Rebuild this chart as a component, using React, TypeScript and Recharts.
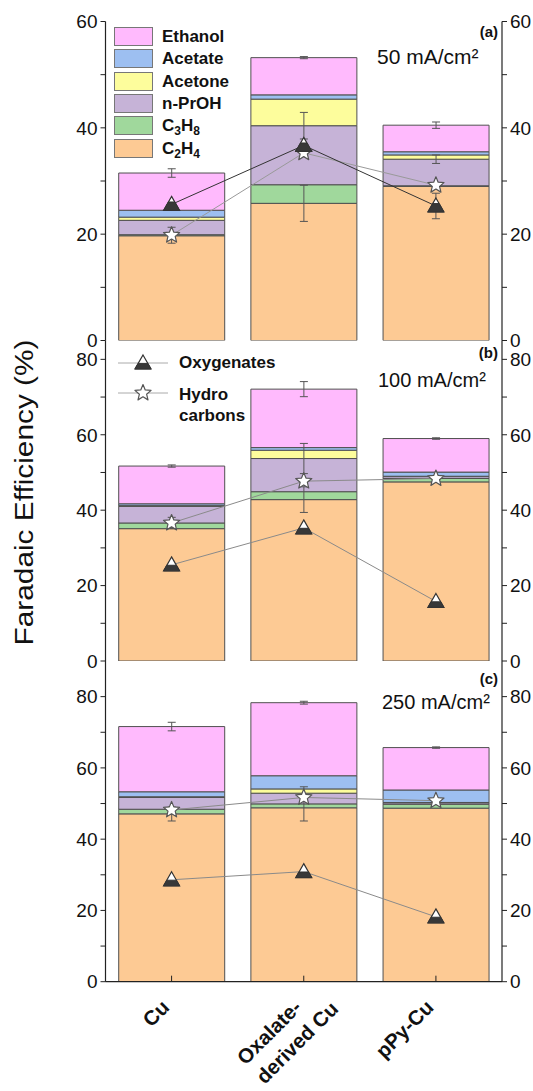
import React from "react";
import { Bar, ComposedChart, ErrorBar, Line, XAxis, YAxis } from "recharts";

const W = 533;
const FONT = "'Liberation Sans', Arial, sans-serif";

const CATEGORIES = ["Cu", "Oxalate-\nderived Cu", "pPy-Cu"];

// (a) 50 mA/cm2 — stacked from the bottom up
const C2H4_50 = [19.7, 25.8, 29.0];
const C3H8_50 = [0.2, 3.5, 0.1];
const NPROH_50 = [2.7, 11.1, 5.0];
const ACETONE_50 = [0.6, 5.0, 0.8];
const ACETATE_50 = [1.3, 0.8, 0.6];
const ETHANOL_50 = [7.0, 7.0, 5.0];
const OXY_50 = [25.6, 36.7, 25.3];
const HYDRO_50 = [19.8, 35.3, 29.2];
const ETHANOL_ERR_50 = [0.8, 0.2, 0.6];
const NPROH_ERR_50 = [0, 2.5, 0.8];
const C2H4_ERR_50 = [0, 3.4, 0];
const C3H8_ERR_50 = [0, 0, 0];
const OXY_ERR_50 = [0, 0, 2.4];
const HYDRO_ERR_50 = [1.5, 0, 0];

// (b) 100 mA/cm2
const C2H4_100 = [35.1, 42.8, 47.5];
const C3H8_100 = [1.5, 2.1, 0.9];
const NPROH_100 = [4.4, 8.8, 0.5];
const ACETONE_100 = [0.2, 2.2, 0.1];
const ACETATE_100 = [0.5, 0.7, 1.1];
const ETHANOL_100 = [10.0, 15.5, 8.9];
const OXY_100 = [25.5, 35.3, 15.8];
const HYDRO_100 = [36.6, 47.7, 48.4];
const ETHANOL_ERR_100 = [0.3, 2.0, 0.2];
const NPROH_ERR_100 = [0, 4.0, 0];
const C2H4_ERR_100 = [0, 3.4, 0];
const C3H8_ERR_100 = [1.5, 0, 0];
const OXY_ERR_100 = [0, 0, 0];
const HYDRO_ERR_100 = [0, 0, 0];

// (c) 250 mA/cm2
const C2H4_250 = [47.1, 48.8, 48.7];
const C3H8_250 = [1.3, 1.1, 1.1];
const NPROH_250 = [3.3, 3.0, 0.4];
const ACETONE_250 = [0.2, 1.2, 0.1];
const ACETATE_250 = [1.4, 3.7, 3.5];
const ETHANOL_250 = [18.3, 20.5, 11.9];
const OXY_250 = [28.6, 30.9, 18.2];
const HYDRO_250 = [48.2, 51.7, 50.8];
const ETHANOL_ERR_250 = [1.2, 0.4, 0.2];
const NPROH_ERR_250 = [0, 0, 0];
const C2H4_ERR_250 = [2.0, 0, 0];
const C3H8_ERR_250 = [0, 4.8, 0];
const OXY_ERR_250 = [0, 0, 0];
const HYDRO_ERR_250 = [0, 0, 0];

const COLORS = {
  ethanol: "#ffbafd",
  acetate: "#9dbff1",
  acetone: "#fdfd9c",
  nproh: "#c6b3d7",
  c3h8: "#a0d89c",
  c2h4: "#fdca94",
};

function rows(
  c2h4: number[], c3h8: number[], nproh: number[], acetone: number[], acetate: number[], ethanol: number[],
  oxy: number[], hydro: number[],
  eEth: number[], eNp: number[], eC2: number[], eC3: number[], eOxy: number[], eHyd: number[],
) {
  return CATEGORIES.map((cat, i) => ({
    cat,
    c2h4: c2h4[i], c3h8: c3h8[i], nproh: nproh[i], acetone: acetone[i], acetate: acetate[i], ethanol: ethanol[i],
    oxy: oxy[i], hydro: hydro[i],
    eEth: eEth[i], eNp: eNp[i], eC2: eC2[i], eC3: eC3[i], eOxy: eOxy[i], eHyd: eHyd[i],
  }));
}

const DATA_50 = rows(C2H4_50, C3H8_50, NPROH_50, ACETONE_50, ACETATE_50, ETHANOL_50, OXY_50, HYDRO_50,
  ETHANOL_ERR_50, NPROH_ERR_50, C2H4_ERR_50, C3H8_ERR_50, OXY_ERR_50, HYDRO_ERR_50);
const DATA_100 = rows(C2H4_100, C3H8_100, NPROH_100, ACETONE_100, ACETATE_100, ETHANOL_100, OXY_100, HYDRO_100,
  ETHANOL_ERR_100, NPROH_ERR_100, C2H4_ERR_100, C3H8_ERR_100, OXY_ERR_100, HYDRO_ERR_100);
const DATA_250 = rows(C2H4_250, C3H8_250, NPROH_250, ACETONE_250, ACETATE_250, ETHANOL_250, OXY_250, HYDRO_250,
  ETHANOL_ERR_250, NPROH_ERR_250, C2H4_ERR_250, C3H8_ERR_250, OXY_ERR_250, HYDRO_ERR_250);

const measureCtx = typeof document !== "undefined" ? document.createElement("canvas").getContext("2d") : null;
function textWidth(s: string, font: string) {
  if (!measureCtx) return s.length * 11;
  measureCtx.font = font;
  return measureCtx.measureText(s).width;
}

function Tri({ cx, cy, dark, size = 1 }: { cx: number; cy: number; dark: number; size?: number }) {
  const hw = 8 * size, apexY = cy - 8 * size, baseY = cy + 6 * size;
  const h = baseY - apexY;
  const splitY = apexY + h * (1 - dark);
  const sw = (hw * (splitY - apexY)) / h;
  return (
    <g>
      <polygon points={`${cx},${apexY} ${cx + hw},${baseY} ${cx - hw},${baseY}`} fill="#fff" stroke="#333" strokeWidth={1.2} />
      <polygon points={`${cx - sw},${splitY} ${cx + sw},${splitY} ${cx + hw},${baseY} ${cx - hw},${baseY}`} fill="#383838" stroke="#333" strokeWidth={1} />
    </g>
  );
}

function Star({ cx, cy }: { cx: number; cy: number }) {
  const pts = Array.from({ length: 10 }, (_, i) => {
    const r = i % 2 ? 3.8 : 8.5;
    const a = -Math.PI / 2 + (i * Math.PI) / 5;
    return `${cx + r * Math.cos(a)},${cy + r * Math.sin(a)}`;
  }).join(" ");
  return <polygon points={pts} fill="#fff" stroke="#555" strokeWidth={1.2} strokeLinejoin="round" />;
}

// rotated category label: first line ends near the tick, following lines share its left edge
function CatTick(props: any) {
  const { x, y, payload } = props;
  const lines = String(payload?.value ?? "").split("\n");
  const font = `bold 20.5px ${FONT}`;
  const w1 = textWidth(lines[0], font);
  return (
    <g transform={`translate(${x - 1},${y + 27}) rotate(-45)`}>
      {lines.map((ln, i) => (
        <text key={i} x={-w1} y={i * 27} textAnchor="start" fontSize={20.5} fontWeight="bold" fontFamily={FONT} fill="#111">
          {ln}
        </text>
      ))}
    </g>
  );
}

const AXIS = "#222";
const yTickFmt = (v: number) => (v % 20 === 0 ? String(v) : "");
const Y_TICK_STYLE = { fontSize: 19, fill: "#111", fontFamily: FONT };

type PanelProps = {
  data: any[];
  top: number;
  height: number;
  mt: number;
  mb: number;
  yMax: number;
  yTicks: number[];
  dark: number;
  oxyStroke: string;
  hydroStroke: string;
  showCats?: boolean;
};

function Panel({ data, top, height, mt, mb, yMax, yTicks, dark, oxyStroke, hydroStroke, showCats }: PanelProps) {
  const err = (key: string) => <ErrorBar dataKey={key} width={4} strokeWidth={1} stroke="#555" direction="y" />;
  return (
    <div style={{ position: "absolute", left: 0, top, width: W, height }}>
      <ComposedChart width={W} height={height} data={data} margin={{ top: mt, right: 0, bottom: mb, left: 0 }} barCategoryGap="10%">
        <XAxis
          xAxisId="cat" dataKey="cat" orientation="bottom" height={showCats ? 100 : 0} tickSize={-6} tickMargin={6}
          axisLine={{ stroke: AXIS, strokeWidth: 1.2 }} tickLine={{ stroke: AXIS }}
          tick={showCats ? <CatTick /> : false} interval={0}
        />
        <XAxis
          xAxisId="top" dataKey="cat" orientation="top" height={0} tickSize={-6}
          axisLine={{ stroke: AXIS, strokeWidth: 1.2 }} tickLine={{ stroke: AXIS }} tick={false} interval={0}
        />
        <YAxis
          yAxisId="l" domain={[0, yMax]} ticks={yTicks} allowDataOverflow width={105.5} tickSize={5} tickMargin={3}
          interval={0} tickFormatter={yTickFmt} axisLine={{ stroke: AXIS, strokeWidth: 1.2 }} tickLine={{ stroke: AXIS }}
          tick={Y_TICK_STYLE}
        />
        <YAxis
          yAxisId="r" orientation="right" domain={[0, yMax]} ticks={yTicks} allowDataOverflow width={31} tickSize={5} tickMargin={3}
          interval={0} tickFormatter={yTickFmt} axisLine={{ stroke: AXIS, strokeWidth: 1.2 }} tickLine={{ stroke: AXIS }}
          tick={Y_TICK_STYLE}
        />
        <Bar xAxisId="cat" yAxisId="l" dataKey="c2h4" stackId="s" fill={COLORS.c2h4} stroke="#505050" strokeWidth={1} isAnimationActive={false}>
          {err("eC2")}
        </Bar>
        <Bar xAxisId="cat" yAxisId="l" dataKey="c3h8" stackId="s" fill={COLORS.c3h8} stroke="#505050" strokeWidth={1} isAnimationActive={false}>
          {err("eC3")}
        </Bar>
        <Bar xAxisId="cat" yAxisId="l" dataKey="nproh" stackId="s" fill={COLORS.nproh} stroke="#505050" strokeWidth={1} isAnimationActive={false}>
          {err("eNp")}
        </Bar>
        <Bar xAxisId="cat" yAxisId="l" dataKey="acetone" stackId="s" fill={COLORS.acetone} stroke="#505050" strokeWidth={1} isAnimationActive={false} />
        <Bar xAxisId="cat" yAxisId="l" dataKey="acetate" stackId="s" fill={COLORS.acetate} stroke="#505050" strokeWidth={1} isAnimationActive={false} />
        <Bar xAxisId="cat" yAxisId="l" dataKey="ethanol" stackId="s" fill={COLORS.ethanol} stroke="#505050" strokeWidth={1} isAnimationActive={false}>
          {err("eEth")}
        </Bar>
        <Line
          xAxisId="cat" yAxisId="l" dataKey="hydro" stroke={hydroStroke} strokeWidth={1} isAnimationActive={false}
          dot={(p: any) => <Star key={`s-${p.index}`} cx={p.cx} cy={p.cy} />} activeDot={false}
        >
          {err("eHyd")}
        </Line>
        <Line
          xAxisId="cat" yAxisId="l" dataKey="oxy" stroke={oxyStroke} strokeWidth={1} isAnimationActive={false}
          dot={(p: any) => <Tri key={`t-${p.index}`} cx={p.cx} cy={p.cy} dark={dark} />} activeDot={false}
        >
          {err("eOxy")}
        </Line>
      </ComposedChart>
    </div>
  );
}

const txt = (extra: React.CSSProperties): React.CSSProperties => ({
  position: "absolute", fontFamily: FONT, color: "#111", whiteSpace: "nowrap", lineHeight: 1, ...extra,
});

const LEGEND_A: { label: React.ReactNode; color: string }[] = [
  { label: "Ethanol", color: COLORS.ethanol },
  { label: "Acetate", color: COLORS.acetate },
  { label: "Acetone", color: COLORS.acetone },
  { label: "n-PrOH", color: COLORS.nproh },
  { label: <>C<sub style={{ fontSize: 12 }}>3</sub>H<sub style={{ fontSize: 12 }}>8</sub></>, color: COLORS.c3h8 },
  { label: <>C<sub style={{ fontSize: 12 }}>2</sub>H<sub style={{ fontSize: 12 }}>4</sub></>, color: COLORS.c2h4 },
];

export default function App() {
  return (
    <div style={{ position: "absolute", left: 0, top: 0, width: W, height: 1091, background: "#fff", fontFamily: FONT, overflow: "hidden" }}>
      <style>{`.recharts-surface{overflow:visible}`}</style>
      <Panel data={DATA_50} top={0} height={345} mt={21.5} mb={4.5} yMax={60} yTicks={[0, 10, 20, 30, 40, 50, 60]}
        dark={0.6} oxyStroke="#333" hydroStroke="#999" />
      <Panel data={DATA_100} top={330} height={340} mt={10.5} mb={9} yMax={85} yTicks={[0, 10, 20, 30, 40, 50, 60, 70, 80]}
        dark={0.4} oxyStroke="#8a8a8a" hydroStroke="#8a8a8a" />
      <Panel data={DATA_250} top={650} height={441} mt={11} mb={9.3} yMax={90} yTicks={[0, 10, 20, 30, 40, 50, 60, 70, 80]}
        dark={0.4} oxyStroke="#8a8a8a" hydroStroke="#8a8a8a" showCats />

      {/* y axis title */}
      <svg style={{ position: "absolute", left: 0, top: 0 }} width={60} height={1091}>
        <text transform="translate(33,492.5) rotate(-90)" textAnchor="middle" fontSize={25} fontFamily={FONT} fill="#111"
          textLength={306} lengthAdjust="spacingAndGlyphs">
          Faradaic Efficiency (%)
        </text>
      </svg>

      {/* legend (a) */}
      {LEGEND_A.map((it, i) => (
        <React.Fragment key={i}>
          <div style={{ position: "absolute", left: 114, top: 27 + i * 22.3, width: 39, height: 19, background: it.color, border: "1px solid #777", boxSizing: "border-box" }} />
          <div style={txt({ left: 162, top: 28 + i * 22.3, fontSize: 17, fontWeight: "bold" })}>{it.label}</div>
        </React.Fragment>
      ))}

      {/* legend (b) */}
      <svg style={{ position: "absolute", left: 110, top: 350 }} width={70} height={60}>
        <line x1={8} y1={13} x2={58} y2={13} stroke="#aaa" strokeWidth={1} />
        <Tri cx={33} cy={13} dark={0.4} />
        <line x1={8} y1={43} x2={58} y2={43} stroke="#aaa" strokeWidth={1} />
        <Star cx={33} cy={43} />
      </svg>
      <div style={txt({ left: 179, top: 354, fontSize: 17, fontWeight: "bold" })}>Oxygenates</div>
      <div style={txt({ left: 179, top: 384, fontSize: 17, fontWeight: "bold", lineHeight: "21px" })}>
        Hydro<br />carbons
      </div>

      {/* panel tags and current densities */}
      <div style={txt({ left: 470, top: 24, width: 28, textAlign: "right", fontSize: 15, fontWeight: "bold" })}>(a)</div>
      <div style={txt({ left: 470, top: 345, width: 28, textAlign: "right", fontSize: 15, fontWeight: "bold" })}>(b)</div>
      <div style={txt({ left: 470, top: 671, width: 28, textAlign: "right", fontSize: 15, fontWeight: "bold" })}>(c)</div>
      <div style={txt({ left: 377, top: 46, fontSize: 21 })}>50 mA/cm²</div>
      <div style={txt({ left: 378, top: 370, fontSize: 20 })}>100 mA/cm²</div>
      <div style={txt({ left: 382, top: 692, fontSize: 20 })}>250 mA/cm²</div>
    </div>
  );
}
